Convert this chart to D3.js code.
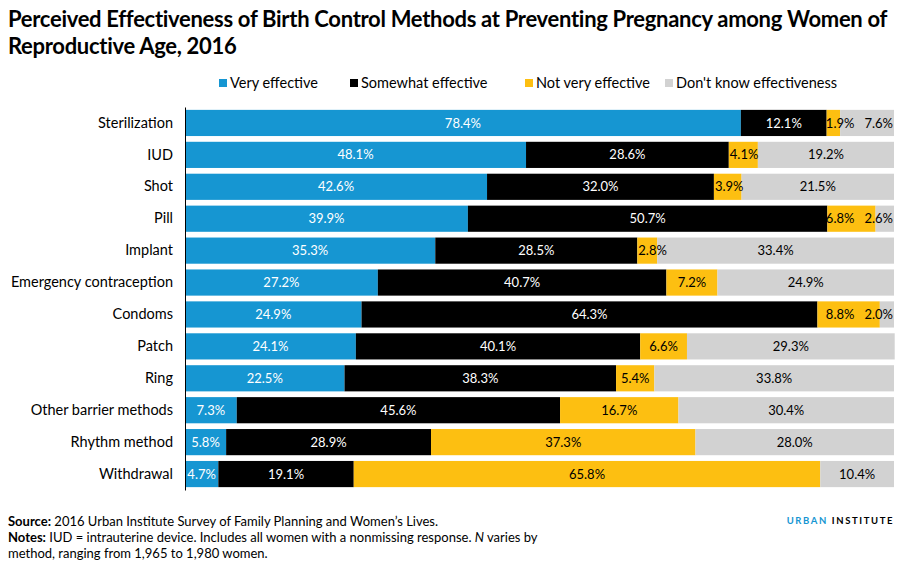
<!DOCTYPE html>
<html>
<head>
<meta charset="utf-8">
<script src="https://cdn.jsdelivr.net/npm/d3@7"></script>
<style>
  body { margin: 0; background: #fff; }
  svg { display: block; font-family: Lato, "Open Sans", sans-serif; }
</style>
</head>
<body>
<div id="chart"></div>
<script>
// ----------------------------
// Data
// ----------------------------
const methods = ['Sterilization', 'IUD', 'Shot', 'Pill', 'Implant', 'Emergency contraception',
  'Condoms', 'Patch', 'Ring', 'Other barrier methods', 'Rhythm method', 'Withdrawal'];
const seriesNames = ['Very effective', 'Somewhat effective', 'Not very effective', "Don't know effectiveness"];
const veryEffective = [78.4, 48.1, 42.6, 39.9, 35.3, 27.2, 24.9, 24.1, 22.5, 7.3, 5.8, 4.7];
const somewhatEffective = [12.1, 28.6, 32.0, 50.7, 28.5, 40.7, 64.3, 40.1, 38.3, 45.6, 28.9, 19.1];
const notVeryEffective = [1.9, 4.1, 3.9, 6.8, 2.8, 7.2, 8.8, 6.6, 5.4, 16.7, 37.3, 65.8];
const dontKnow = [7.6, 19.2, 21.5, 2.6, 33.4, 24.9, 2.0, 29.3, 33.8, 30.4, 28.0, 10.4];
const colors = ['#1696d2', '#000000', '#fdbf11', '#d2d2d2'];
const labelColors = ['#ffffff', '#ffffff', '#000000', '#000000'];

const W = 911, H = 568;
const margin = { left: 185, right: 17, top: 107, bottom: 78 };

const svg = d3.select('#chart').append('svg')
  .attr('width', W)
  .attr('height', H);

// ----------------------------
// Title (font size fitted so line 1 spans the width)
// ----------------------------
const titleLines = ['Perceived Effectiveness of Birth Control Methods at Preventing Pregnancy among Women of',
  'Reproductive Age, 2016'];
const title1 = svg.append('text')
  .attr('x', 8).attr('y', 27)
  .attr('font-size', 22).attr('font-weight', 700)
  .attr('letter-spacing', -0.3)
  .text(titleLines[0]);
const fitSize = Math.min(22, 22 * 890 / title1.node().getComputedTextLength());
title1.attr('font-size', fitSize);
svg.append('text')
  .attr('x', 8).attr('y', 54)
  .attr('font-size', fitSize).attr('font-weight', 700)
  .attr('letter-spacing', -0.3)
  .text(titleLines[1]);

// ----------------------------
// Legend
// ----------------------------
const legendX = [219, 350, 525, 665];
const legend = svg.append('g')
  .selectAll('g')
  .data(seriesNames)
  .enter()
  .append('g')
  .attr('transform', (d, i) => `translate(${legendX[i]}, 78)`);
legend.append('rect')
  .attr('width', 8).attr('height', 8).attr('y', 1)
  .attr('fill', (d, i) => colors[i]);
legend.append('text')
  .attr('x', 11).attr('y', 10)
  .attr('font-size', 14.5)
  .attr('fill', '#000')
  .text(d => d);

// ----------------------------
// Scales
// ----------------------------
const x = d3.scaleLinear().domain([0, 100]).range([margin.left, W - margin.right]);
const y = d3.scaleBand().domain(methods).range([margin.top, H - margin.bottom]).paddingInner(0.18).paddingOuter(0.09);

const rows = methods.map((m, i) => ({ method: m, values: [veryEffective[i], somewhatEffective[i], notVeryEffective[i], dontKnow[i]] }));
const stack = d3.stack().keys([0, 1, 2, 3]).value((d, k) => d.values[k]);
const layers = stack(rows);

// ---- Bars
svg.append('g')
  .selectAll('g')
  .data(layers)
  .enter()
  .append('g')
  .attr('fill', d => colors[d.key])
  .selectAll('rect')
  .data(d => d)
  .enter()
  .append('rect')
  .attr('x', d => x(d[0]))
  .attr('y', d => y(d.data.method))
  .attr('width', d => x(d[1]) - x(d[0]))
  .attr('height', y.bandwidth());

// ---- Axis
const yAxis = svg.append('g')
  .attr('transform', `translate(${margin.left}, 0)`)
  .call(d3.axisLeft(y).tickSize(0).tickPadding(12));
yAxis.select('.domain').attr('stroke', '#000').attr('stroke-width', 1);
yAxis.selectAll('text').attr('font-size', 14.5).attr('font-family', 'Lato, sans-serif').attr('fill', '#000');

// ----------------------------
// Value labels (place, then nudge apart like Excel does)
// ----------------------------
const labelLayer = svg.append('g').attr('font-size', 13);
const gap = 10;
const xMax = W - margin.right - 1;

rows.forEach((row, ri) => {
  const cy = y(row.method) + y.bandwidth() / 2;
  const items = layers.map((layer, k) => {
    const seg = layer[ri];
    const t = labelLayer.append('text')
      .attr('y', cy)
      .attr('dy', '0.35em')
      .attr('fill', labelColors[k])
      .text(d3.format('.1f')(row.values[k]) + '%');
    const w = t.node().getComputedTextLength();
    const x0 = x(seg[0]), x1 = x(seg[1]);
    let pos = (w <= x1 - x0 - 2) ? (x0 + x1) / 2 - w / 2 : x0 + 1;
    return { t, w, x0, x1, pos };
  });
  // keep inside chart on the right
  items.forEach(it => { if (it.pos + it.w > xMax) it.pos = xMax - it.w; });
  // push right on collision
  for (let i = 1; i < items.length; i++) {
    const prev = items[i - 1], cur = items[i];
    if (cur.pos < prev.pos + prev.w + gap) cur.pos = Math.min(prev.pos + prev.w + gap, xMax - cur.w);
  }
  // push left if still colliding
  for (let i = items.length - 2; i >= 0; i--) {
    const nxt = items[i + 1], cur = items[i];
    if (cur.pos + cur.w + gap > nxt.pos) cur.pos = nxt.pos - gap - cur.w;
  }
  items.forEach(it => it.t.attr('x', it.pos));
});

// ----------------------------
// Footer
// ----------------------------
const foot = svg.append('g').attr('font-size', 13).attr('fill', '#000');
const footLines = [
  ['Source:', ' 2016 Urban Institute Survey of Family Planning and Women\u2019s Lives.'],
  ['Notes:', ' IUD = intrauterine device. Includes all women with a nonmissing response. '],
  ['', 'method, ranging from 1,965 to 1,980 women.']
];
footLines.forEach((ln, i) => {
  const t = foot.append('text').attr('x', 8).attr('y', 526 + i * 16);
  if (ln[0]) t.append('tspan').attr('font-weight', 700).text(ln[0]);
  t.append('tspan').text(ln[1]);
  if (i === 1) {
    t.append('tspan').attr('font-style', 'italic').text('N');
    t.append('tspan').text(' varies by');
  }
});

const brand = svg.append('text')
  .attr('x', 894).attr('y', 524)
  .attr('text-anchor', 'end')
  .attr('font-size', 9.5).attr('font-weight', 700)
  .attr('letter-spacing', 1.6);
brand.append('tspan').attr('fill', '#1696d2').text('URBAN ');
brand.append('tspan').attr('fill', '#000').text('INSTITUTE');
</script>
</body>
</html>
